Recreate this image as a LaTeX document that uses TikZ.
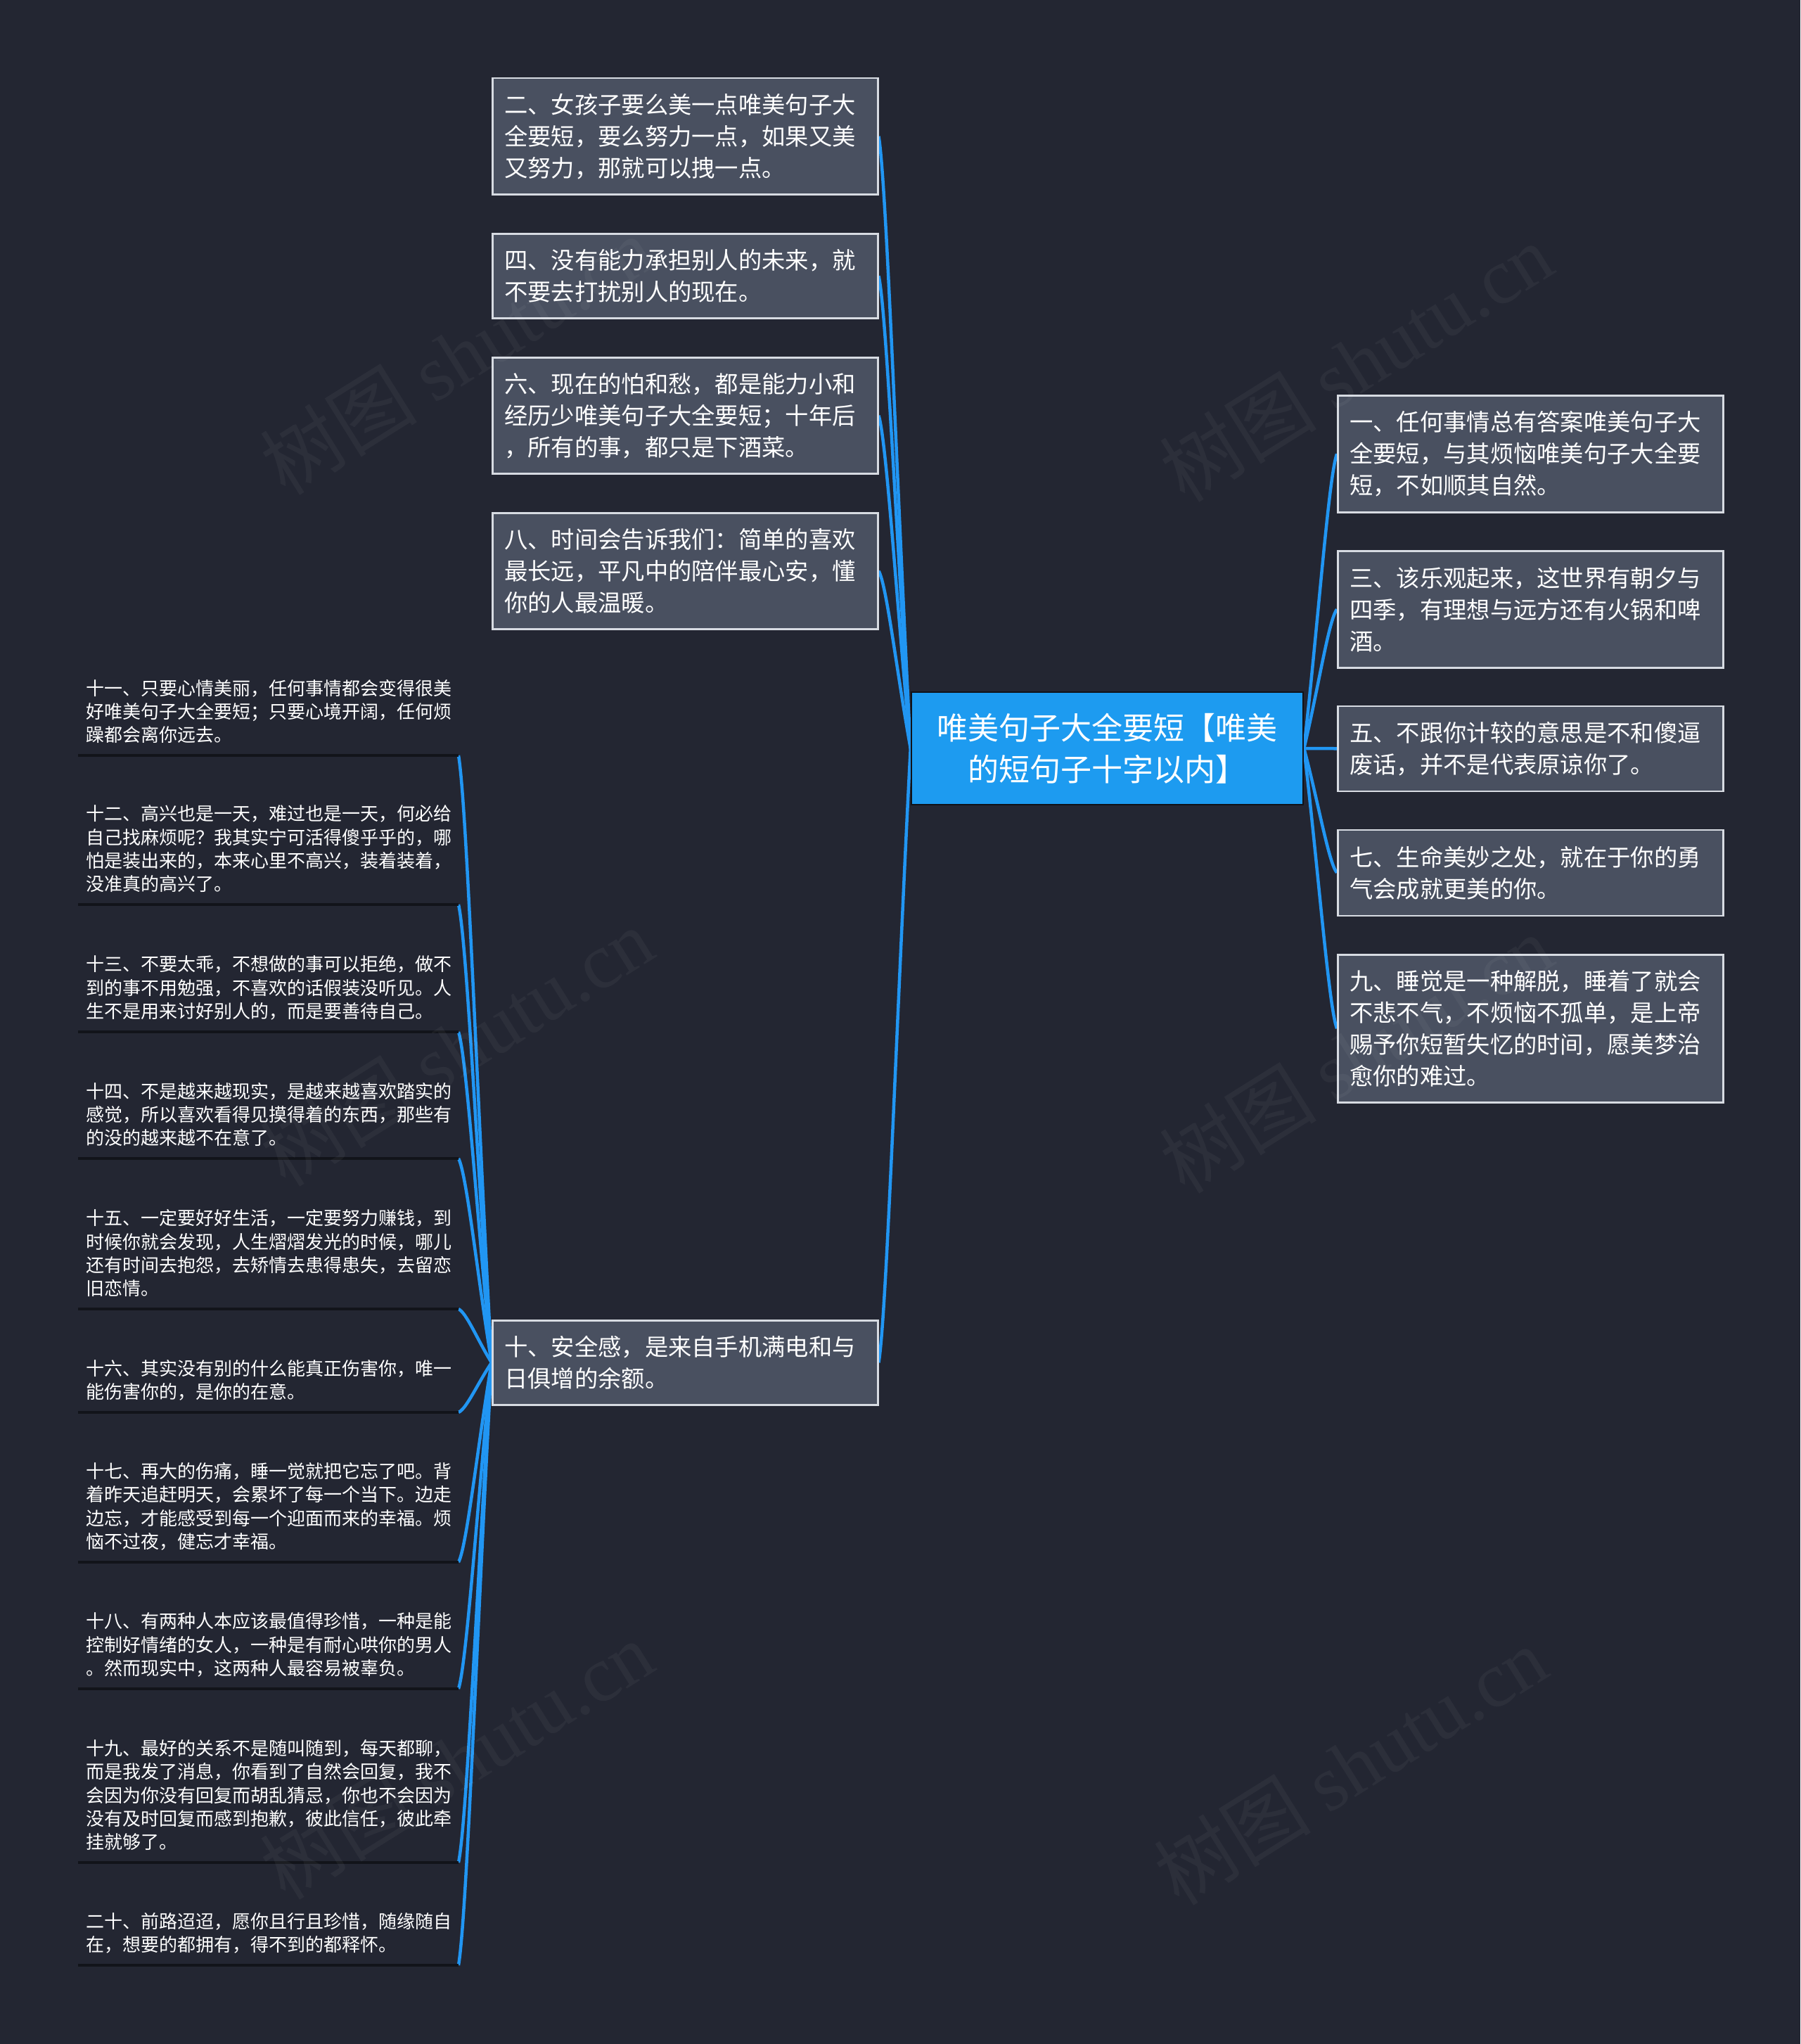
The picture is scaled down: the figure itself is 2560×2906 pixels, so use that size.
\documentclass[tikz,border=0pt]{standalone}
\usepackage{fontspec}
\setmainfont{Noto Sans CJK SC}
\newfontfamily\wmlatin{Liberation Serif}
\usetikzlibrary{calc}
\definecolor{bgc}{RGB}{35,38,50}
\definecolor{boxc}{RGB}{73,80,96}
\definecolor{boxline}{RGB}{215,219,226}
\definecolor{rootc}{RGB}{29,155,240}
\definecolor{rootline}{RGB}{16,18,24}
\definecolor{linec}{RGB}{33,150,243}
\definecolor{ulc}{RGB}{18,20,26}
\pgfdeclarelayer{bglayer}
\pgfdeclarelayer{linelayer}
\pgfsetlayers{bglayer,linelayer,main}
\newcommand\mmconn[2]{%
  \draw[conn] let \p1=(#1), \p2=(#2) in (\p1) .. controls ({\x1+0.25*(\x2-\x1)},{\y1+0.08*(\y2-\y1)}) and ({\x1+0.55*(\x2-\x1)},{\y1+0.55*(\y2-\y1)}) .. (\p2);}
\begin{document}
\begin{tikzpicture}[x=1pt,y=-1pt,
  topic/.style={draw=boxline, line width=2.5pt, fill=boxc, text=white, anchor=north west,
    minimum width=548pt, text width=514pt, inner xsep=17pt, inner ysep=0pt, align=left,
    font=\fontsize{33.3}{45}\selectfont},
  rootbox/.style={draw=rootline, line width=2.5pt, fill=rootc, text=white,
    minimum width=557pt, minimum height=160pt, inner sep=0pt, align=center,
    font=\fontsize{44}{59.3}\selectfont},
  leaf/.style={anchor=west, text=white, text width=530pt, inner xsep=11pt, inner ysep=0pt,
    align=left, font=\fontsize{26}{33.4}\selectfont},
  conn/.style={draw=linec, line width=4.5pt},
  uline/.style={draw=ulc, line width=3.5pt},
  wm/.style={text=white, opacity=0.045, font=\fontsize{112}{112}\selectfont, rotate=32}]
\useasboundingbox (0,0) rectangle (2560,2906);
\begin{pgfonlayer}{bglayer}
\fill[bgc] (0,0) rectangle (2560,2906);
\end{pgfonlayer}

% root
\node[rootbox] (root) at (1574.5,1064) {唯美句子大全要短【唯美\\的短句子十字以内】};

% left topics
\node[topic, minimum height=165pt] (b2) at (699,110) {二、女孩子要么美一点唯美句子大\\全要短，要么努力一点，如果又美\\又努力，那就可以拽一点。};
\node[topic, minimum height=120pt] (b4) at (699,331) {四、没有能力承担别人的未来，就\\不要去打扰别人的现在。};
\node[topic, minimum height=165pt] (b6) at (699,507) {六、现在的怕和愁，都是能力小和\\经历少唯美句子大全要短；十年后\\，所有的事，都只是下酒菜。};
\node[topic, minimum height=165pt] (b8) at (699,728) {八、时间会告诉我们：简单的喜欢\\最长远，平凡中的陪伴最心安，懂\\你的人最温暖。};
\node[topic, minimum height=120pt] (b10) at (699,1876) {十、安全感，是来自手机满电和与\\日俱增的余额。};

% right topics
\node[topic, minimum height=166pt] (b1) at (1901,561) {一、任何事情总有答案唯美句子大\\全要短，与其烦恼唯美句子大全要\\短，不如顺其自然。};
\node[topic, minimum height=166pt] (b3) at (1901,782) {三、该乐观起来，这世界有朝夕与\\四季，有理想与远方还有火锅和啤\\酒。};
\node[topic, minimum height=121pt] (b5) at (1901,1002.5) {五、不跟你计较的意思是不和傻逼\\废话，并不是代表原谅你了。};
\node[topic, minimum height=122pt] (b7) at (1901,1178.5) {七、生命美妙之处，就在于你的勇\\气会成就更美的你。};
\node[topic, minimum height=210pt] (b9) at (1901,1356) {九、睡觉是一种解脱，睡着了就会\\不悲不气，不烦恼不孤单，是上帝\\赐予你短暂失忆的时间，愿美梦治\\愈你的难过。};

% leaves
\node[leaf] (l11) at (111,1011.6) {十一、只要心情美丽，任何事情都会变得很美\\好唯美句子大全要短；只要心境开阔，任何烦\\躁都会离你远去。};
\node[leaf] (l12) at (111,1206.9) {十二、高兴也是一天，难过也是一天，何必给\\自己找麻烦呢？我其实宁可活得傻乎乎的，哪\\怕是装出来的，本来心里不高兴，装着装着，\\没准真的高兴了。};
\node[leaf] (l13) at (111,1404.6) {十三、不要太乖，不想做的事可以拒绝，做不\\到的事不用勉强，不喜欢的话假装没听见。人\\生不是用来讨好别人的，而是要善待自己。};
\node[leaf] (l14) at (111,1584.6) {十四、不是越来越现实，是越来越喜欢踏实的\\感觉，所以喜欢看得见摸得着的东西，那些有\\的没的越来越不在意了。};
\node[leaf] (l15) at (111,1781.9) {十五、一定要好好生活，一定要努力赚钱，到\\时候你就会发现，人生熠熠发光的时候，哪儿\\还有时间去抱怨，去矫情去患得患失，去留恋\\旧恋情。};
\node[leaf] (l16) at (111,1962.3) {十六、其实没有别的什么能真正伤害你，唯一\\能伤害你的，是你的在意。};
\node[leaf] (l17) at (111,2141.9) {十七、再大的伤痛，睡一觉就把它忘了吧。背\\着昨天追赶明天，会累坏了每一个当下。边走\\边忘，才能感受到每一个迎面而来的幸福。烦\\恼不过夜，健忘才幸福。};
\node[leaf] (l18) at (111,2338.6) {十八、有两种人本应该最值得珍惜，一种是能\\控制好情绪的女人，一种是有耐心哄你的男人\\。然而现实中，这两种人最容易被辜负。};
\node[leaf] (l19) at (111,2552.2) {十九、最好的关系不是随叫随到，每天都聊，\\而是我发了消息，你看到了自然会回复，我不\\会因为你没有回复而胡乱猜忌，你也不会因为\\没有及时回复而感到抱歉，彼此信任，彼此牵\\挂就够了。};
\node[leaf] (l20) at (111,2748.3) {二十、前路迢迢，愿你且行且珍惜，随缘随自\\在，想要的都拥有，得不到的都释怀。};

% underline ends
\coordinate (u11) at (652,1074);
\coordinate (u12) at (652,1286);
\coordinate (u13) at (652,1467);
\coordinate (u14) at (652,1647);
\coordinate (u15) at (652,1861);
\coordinate (u16) at (652,2008);
\coordinate (u17) at (652,2221);
\coordinate (u18) at (652,2401);
\coordinate (u19) at (652,2648);
\coordinate (u20) at (652,2794);
\foreach \u in {11,...,20} {\draw[uline] ($(u\u)+(-541,0)$) -- (u\u);}

\begin{pgfonlayer}{linelayer}
\foreach \b in {b2,b4,b6,b8,b10} {\mmconn{\b.east}{root.west}}
\foreach \b in {b1,b3,b5,b7,b9} {\mmconn{\b.west}{root.east}}
\foreach \u in {11,...,20} {\mmconn{u\u}{b10.west}}
\end{pgfonlayer}

% watermarks
\node[wm] (w1) at (649,505) {树图 {\wmlatin shutu.cn}};
\node[wm] (w2) at (1928,515) {树图 {\wmlatin shutu.cn}};
\node[wm] (w3) at (649,1488) {树图 {\wmlatin shutu.cn}};
\node[wm] (w4) at (1928,1498) {树图 {\wmlatin shutu.cn}};
\node[wm] (w5) at (649,2502) {树图 {\wmlatin shutu.cn}};
\node[wm] (w6) at (1920,2510) {树图 {\wmlatin shutu.cn}};
\end{tikzpicture}
\end{document}
